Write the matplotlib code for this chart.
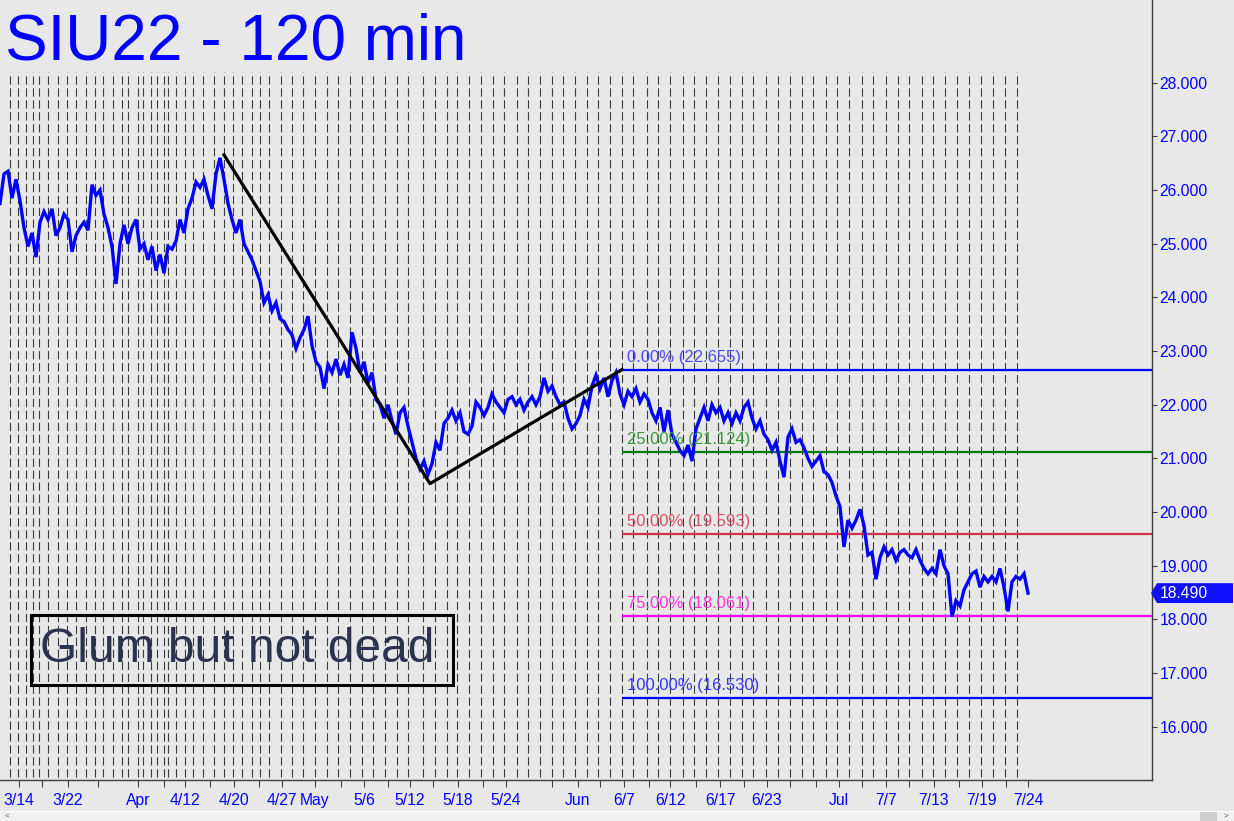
"""SIU22 - 120 min chart with fib retracement levels."""
import matplotlib
matplotlib.use("Agg")
import matplotlib.pyplot as plt
import matplotlib.transforms as mtransforms
from matplotlib.patches import Polygon, Rectangle
import numpy as np

plt.rcParams["font.family"] = ["Liberation Sans", "DejaVu Sans"]
plt.rcParams["lines.scale_dashes"] = False

BG = "#e8e8e8"
BLUE = "#0000ff"

# price, one value per bar (bar index = x)
price = [
    25.75, 26.3, 26.35, 25.85, 26.2, 25.8, 25.3, 24.95, 25.2, 24.75,
    25.4, 25.6, 25.45, 25.65, 25.15, 25.3, 25.55, 25.45, 24.85, 25.15,
    25.3, 25.4, 25.25, 26.1, 25.9, 26.0, 25.55, 25.3, 24.95, 24.25,
    25.0, 25.35, 25.0, 25.3, 25.45, 24.9, 25.0, 24.7, 24.95, 24.5,
    24.8, 24.45, 24.95, 24.9, 25.05, 25.45, 25.2, 25.65, 25.85, 26.15,
    26.05, 26.2, 25.9, 25.65, 26.3, 26.6, 26.2, 25.75, 25.45, 25.2,
    25.45, 25.0, 24.85, 24.7, 24.5, 24.3, 23.9, 24.05, 23.75, 23.9,
    23.6, 23.55, 23.4, 23.3, 23.05, 23.25, 23.4, 23.65, 23.1, 22.8,
    22.7, 22.3, 22.75, 22.6, 22.85, 22.55, 22.75, 22.5, 23.35, 23.05,
    22.6, 22.8, 22.4, 22.6, 22.1, 22.0, 21.75, 22.0, 21.7, 21.45,
    21.85, 21.95, 21.6, 21.3, 21.0, 20.8, 20.95, 20.7, 20.9, 21.3,
    21.15, 21.65, 21.75, 21.9, 21.7, 21.85, 21.5, 21.45, 21.6, 22.05,
    21.95, 21.8, 21.95, 22.2, 22.05, 21.95, 21.85, 22.1, 22.15, 22.0,
    22.1, 21.9, 22.05, 22.15, 22.0, 22.15, 22.5, 22.25, 22.35, 22.15,
    22.0, 22.05, 21.75, 21.55, 21.65, 21.8, 22.1, 21.95, 22.35, 22.55,
    22.3, 22.5, 22.15, 22.45, 22.6, 22.2, 22.0, 22.25, 22.15, 22.3,
    22.05, 22.2, 22.1, 21.85, 21.7, 21.95, 21.5, 21.9, 21.45, 21.3,
    21.15, 21.05, 21.25, 20.95, 21.55, 21.75, 21.95, 21.7, 22.0, 21.85,
    21.95, 21.7, 21.85, 21.65, 21.85, 21.7, 21.95, 22.05, 21.75, 21.55,
    21.7, 21.45, 21.35, 21.15, 21.3, 20.95, 20.65, 21.4, 21.55, 21.3,
    21.35, 21.2, 21.0, 20.85, 20.95, 21.05, 20.75, 20.7, 20.55, 20.3,
    20.1, 19.35, 19.85, 19.7, 19.85, 20.05, 19.75, 19.2, 19.25, 18.75,
    19.15, 19.35, 19.2, 19.3, 19.1, 19.25, 19.3, 19.2, 19.15, 19.3,
    19.1, 18.95, 18.85, 18.95, 18.85, 19.3, 19.0, 18.85, 18.05, 18.35,
    18.25, 18.55, 18.7, 18.85, 18.9, 18.6, 18.8, 18.7, 18.8, 18.7,
    18.95, 18.6, 18.15, 18.7, 18.8, 18.75, 18.85, 18.49,
]
last_price = 18.490

# black swing lines (bar, price)
swing_bars = [56, 107.5, 155.5]
swing_prices = [26.655, 20.53, 22.655]

# fib levels
fib_start = 155.5
fib_levels = [22.655, 21.124, 19.593, 18.061, 16.530]
fib_labels = ["0.00% (22.655)", "25.00% (21.124)", "50.00% (19.593)",
              "75.00% (18.061)", "100.00% (16.530)"]
fib_colors = ["#0000ff", "#008000", "#d0304c", "#ff00ff", "#0000ff"]
fib_text_colors = ["#4a4aff", "#3a9a3a", "#d85068", "#ff33dd", "#3434ff"]

# date axis (bar positions)
date_ticks = [4.65, 17, 34.5, 46.25, 58.4, 70.5, 78.75, 91, 102.5, 114.5,
              126.4, 144.4, 156, 167.6, 180, 191.75, 209.75, 221.5, 233.5,
              245.5, 257]
date_labels = ["3/14", "3/22", "Apr", "4/12", "4/20", "4/27", "May", "5/6",
               "5/12", "5/18", "5/24", "Jun", "6/7", "6/12", "6/17", "6/23",
               "Jul", "7/7", "7/13", "7/19", "7/24"]
minor_date_ticks = [10.6, 24.4, 41.1, 52.5, 64.8, 85.2, 96.9, 108.2, 120.7,
                    138.05, 150.1, 162.25, 174, 186, 197.4, 203.9, 215.5,
                    227.25, 239.7, 251.5]
session_lines = [
    2.5, 4.58, 6.5, 8.33, 9.83, 12.08, 14.58, 16.67, 19.0, 21.5, 23.75,
    25.83, 28.33, 30.42, 31.92, 34.58, 35.67, 37.67, 39.17, 41.0, 42.08,
    44.0, 46.25, 48.33, 50.83, 53.58, 56.0, 58.33, 60.42, 62.92, 65.0,
    67.33, 70.25, 72.92, 75.83, 78.75, 81.67, 84.58, 87.5, 90.42, 93.33,
    96.25, 99.17, 102.08, 105.83, 108.75, 111.67, 114.33, 117.33, 120.25,
    123.17, 126.08, 129.17, 132.08, 135.0, 137.92, 140.83, 143.75, 146.67,
    149.58, 152.5, 155.42, 158.33, 161.67, 164.58, 167.5, 170.67, 173.58,
    176.5, 179.58, 182.5, 185.42, 188.33, 191.5, 194.58, 197.5, 200.42,
    203.33, 206.42, 209.33, 212.33, 215.42, 218.33, 221.5, 224.42, 227.33,
    230.42, 233.33, 236.25, 239.33, 242.33, 245.25, 248.33, 251.25, 254.25,
]
price_ticks = [16, 17, 18, 19, 20, 21, 22, 23, 24, 25, 26, 27, 28]

W, H = 1234, 821
fig = plt.figure(figsize=(W / 100, H / 100), dpi=100, facecolor=BG)
ax = fig.add_axes([0, 1 - 780 / H, 1152 / W, 780 / H], facecolor=BG)
ax.set_xlim(0, 288)
ax.set_ylim(15.008, 29.541)

ax.vlines(session_lines, 15.06, 28.2, colors="#3c3c3c", lw=0.8,
          linestyles=[(0, (6.0, 2.6))], zorder=1)

for lvl, lab, c, tc in zip(fib_levels, fib_labels, fib_colors, fib_text_colors):
    ax.hlines(lvl, fib_start, 288, colors=c, lw=1.6, zorder=2)
    ax.text(fib_start + 1.3, lvl + 0.09, lab, color=tc, fontsize=12,
            va="bottom", ha="left", zorder=4)

ax.plot(np.arange(len(price)), price, color=BLUE, lw=2.4, zorder=3,
        solid_joinstyle="miter")
ax.plot(swing_bars, swing_prices, color="black", lw=2.3, zorder=5)

# axes styling
for s in ["top", "left"]:
    ax.spines[s].set_visible(False)
for s in ["right", "bottom"]:
    ax.spines[s].set_color("#404040")
    ax.spines[s].set_linewidth(1.0)

ax.yaxis.tick_right()
ax.set_yticks(price_ticks)
ax.set_yticklabels([f"{v:.3f}" for v in price_ticks])
ax.tick_params(axis="y", colors="#404040", labelcolor=BLUE, labelsize=11.3,
               length=3.5, width=0.8, pad=2)

ax.set_xticks(date_ticks + minor_date_ticks)
ax.set_xticklabels(date_labels + [""] * len(minor_date_ticks))
ax.tick_params(axis="x", colors="#404040", labelcolor=BLUE, labelsize=11.3,
               length=5, width=0.8, pad=4)

# last price tag
tr = mtransforms.blended_transform_factory(fig.transFigure, ax.transData)
tag = Polygon([(1151 / W, last_price), (1157 / W, last_price + 0.185),
               (1233 / W, last_price + 0.185), (1233 / W, last_price - 0.185),
               (1157 / W, last_price - 0.185)],
              closed=True, transform=tr, facecolor="#1010ff",
              edgecolor="none", clip_on=False, zorder=6)
ax.add_patch(tag)
ax.text(1160 / W, last_price, f"{last_price:.3f}", transform=tr, color="white",
        fontsize=11.3, va="center", ha="left", zorder=7)

# comment box
ax.add_patch(Rectangle((31 / 1152, 95 / 780), 422 / 1152, 70 / 780,
                       transform=ax.transAxes, fill=False, edgecolor="black",
                       lw=2.2, zorder=6))
ax.text(237 / 1152, 118 / 780, "Glum but not dead", transform=ax.transAxes,
        color="#2c3350", fontsize=34.5, ha="center", va="baseline", zorder=6)

# title
fig.text(5 / W, 1 - 60 / H, "SIU22 - 120 min", color=BLUE, fontsize=46,
         ha="left", va="baseline")

# scroll strip at the bottom
fig.patches.append(Rectangle((0, 0), 1, 9 / H, transform=fig.transFigure,
                             facecolor="#f0f0f0", edgecolor="none"))
fig.patches.append(Rectangle((0, 9 / H), 1, 1 / H, transform=fig.transFigure,
                             facecolor="white", edgecolor="none"))
fig.patches.append(Rectangle((1200 / W, 0), 17 / W, 9 / H,
                             transform=fig.transFigure, facecolor="#cdcdcd",
                             edgecolor="none"))
fig.text(7 / W, 4.5 / H, "<", color="#606060", fontsize=6, ha="center",
         va="center")
fig.text(1226 / W, 4.5 / H, ">", color="#606060", fontsize=6, ha="center",
         va="center")

fig.savefig("out.png", dpi=100, facecolor=BG)
